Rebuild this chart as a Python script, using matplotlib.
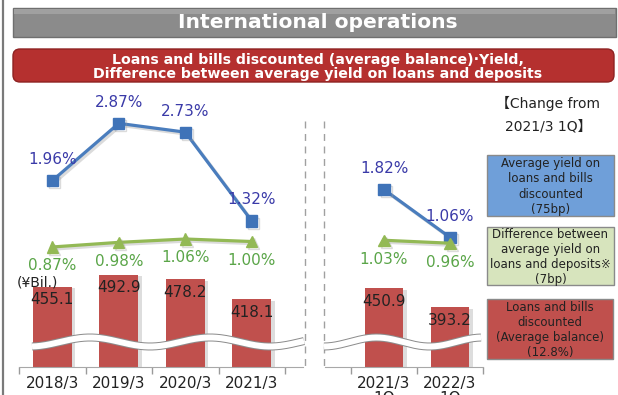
import numpy as np
import matplotlib.pyplot as plt
import matplotlib.patheffects as pe
from matplotlib.patches import FancyBboxPatch, Rectangle

W, H, DPI = 618, 395, 100

# fiscal year-end figures
years = ['2018/3', '2019/3', '2020/3', '2021/3']
loans = [455.1, 492.9, 478.2, 418.1]          # average balance, bil. yen
avg_yield = [1.96, 2.87, 2.73, 1.32]          # %
spread = [0.87, 0.98, 1.06, 1.00]             # %

# first-quarter figures
quarters = ['2021/3\n1Q', '2022/3\n1Q']
loans_q = [450.9, 393.2]
avg_yield_q = [1.82, 1.06]
spread_q = [1.03, 0.96]

RED = '#c0504d'
BLUE = '#4a7dbd'
BLUE_TXT = '#3a3aa8'
GREEN = '#93b955'
GREEN_TXT = '#5aa548'
TXT = '#222222'
FONT = ['DejaVu Sans', 'Noto Sans CJK JP']

plt.rcParams['font.family'] = FONT
fig = plt.figure(figsize=(W / DPI, H / DPI), dpi=DPI)

PT = 72 / DPI   # points per pixel


def px_axes(x0, x1, y0, y1, **kw):
    return fig.add_axes([x0 / W, 1 - y1 / H, (x1 - x0) / W, (y1 - y0) / H], **kw)


def fit_y(ax, val, py, ppu, top=90, bottom=367):
    # put `val` at pixel row py with ppu pixels per unit
    ax.set_ylim(val - (bottom - py) / ppu, val + (py - top) / ppu)


bar_fx = [pe.SimplePatchShadow(offset=(2.5, -1), shadow_rgbFace='#bdbdbd', alpha=0.5), pe.Normal()]
line_fx = [pe.SimpleLineShadow(offset=(1.5, -1.5), shadow_color='#9a9a9a', alpha=0.35), pe.Normal()]


def panel(x0, x1, xlim, labels, bal, yld, spr):
    ax = px_axes(x0, x1, 90, 367)
    ax.patch.set_alpha(0)
    x = np.arange(len(labels))
    bars = ax.bar(x, bal, width=0.59, color=RED, zorder=2)
    for b in bars:
        b.set_path_effects(bar_fx)
    fit_y(ax, 455.1, 287, 0.33)
    ax.set_xlim(*xlim)
    for xi, v in zip(x, bal):
        ax.annotate(f'{v:.1f}', (xi, v), xytext=(0, -13 * PT), textcoords='offset points',
                    ha='center', va='center', fontsize=11, color=TXT, zorder=5)
    ax.set_xticks(x, labels)
    ax.set_xticks(np.arange(-0.5, len(labels)), minor=True)
    ax.tick_params(axis='x', which='major', length=0, pad=6.5, labelsize=11,
                   labelcolor=TXT)
    ax.tick_params(axis='x', which='minor', length=5, color='#9a9a9a', width=1)
    ax.set_yticks([])
    for s in ['top', 'left', 'right']:
        ax.spines[s].set_visible(False)
    ax.spines['bottom'].set_color('#a8a8a8')
    for t in ax.get_xticklabels():
        t.set_verticalalignment('top')
        t.set_linespacing(1.0)

    ay = ax.twinx()
    ay.plot(x, yld, color=BLUE, lw=2.3, marker='s', ms=8,
            mfc='#3f73b8', mec='#3f73b8', zorder=3, path_effects=line_fx)
    fit_y(ay, 1.32, 221, 63)
    for xi, v in zip(x, yld):
        ay.annotate(f'{v:.2f}%', (xi, v), xytext=(0, 21 * PT), textcoords='offset points',
                    ha='center', va='center', fontsize=11, color=BLUE_TXT)

    ag = ax.twinx()
    ag.plot(x, spr, color=GREEN, lw=2.3, marker='^', ms=8, mfc=GREEN, mec=GREEN,
            path_effects=line_fx)
    fit_y(ag, 1.06, 239, 42)
    for xi, v in zip(x, spr):
        ag.annotate(f'{v:.2f}%', (xi, v), xytext=(0, -19 * PT), textcoords='offset points',
                    ha='center', va='center', fontsize=11, color=GREEN_TXT)
    for a in (ay, ag):
        a.set_xlim(*xlim)
        a.axis('off')
    return ax


panel(19, 303, (-0.5, 3.77), years, loans, avg_yield, spread)
panel(325, 483, (-0.894, 1.5), quarters, loans_q, avg_yield_q, spread_q)

# overlay in pixel coordinates: banners, breaks, key boxes
ov = fig.add_axes([0, 0, 1, 1])
ov.set_xlim(0, W)
ov.set_ylim(H, 0)
ov.axis('off')
ov.patch.set_alpha(0)

ov.plot([2.5, 2.5], [0, H], color='#7a7a7a', lw=1.6)

ov.add_patch(Rectangle((13, 8), 603, 29, facecolor='#8b8b8b', edgecolor='#6f6f6f', lw=1))
ov.add_patch(Rectangle((14, 9), 601, 5, facecolor='#a0a0a0', edgecolor='none'))
ov.text(318, 23, 'International operations', ha='center', va='center',
        fontsize=14.6, fontweight='bold', color='white')

ov.add_patch(FancyBboxPatch((13, 49), 601, 33, boxstyle='round,pad=0,rounding_size=7',
                            facecolor='#b5302f', edgecolor='#8e2222', lw=1))
ov.text(318, 60, 'Loans and bills discounted (average balance)\u00b7Yield,',
        ha='center', va='center', fontsize=10.2, fontweight='bold', color='white')
ov.text(318, 74, 'Difference between average yield on loans and deposits',
        ha='center', va='center', fontsize=10.2, fontweight='bold', color='white')

# dashed separators between the two periods
for xs in (305, 324):
    ov.plot([xs, xs], [121, 368], color='#a0a0a0', lw=1, ls=(0, (5, 4)))


# scale-break waves across the bars
def wave(xa, xb, x0, period):
    xs = np.linspace(xa, xb, 200)
    yc = 342 - 4.5 * np.sin(2 * np.pi * (xs - x0) / period)
    ov.plot(xs, yc, color='#8c8c8c', lw=8 * PT, solid_capstyle='butt')
    ov.plot(xs, yc, color='white', lw=6 * PT, solid_capstyle='butt')


wave(32, 304, 60, 120)
wave(324, 481, 350, 106)

ov.text(17, 282, '(\u00a5Bil.)', ha='left', va='center', fontsize=10, color=TXT)

ov.text(548, 103, '\u3010Change from', ha='center', va='center', fontsize=10, color=TXT)
ov.text(548, 127, '2021/3 1Q\u3011', ha='center', va='center', fontsize=10, color=TXT)

boxes = [
    ((487, 155, 127, 61), '#6f9fd9', 'Average yield on\nloans and bills\ndiscounted\n(75bp)'),
    ((487, 227, 127, 58), '#d7e4bd', 'Difference between\naverage yield on\nloans and deposits\u203b\n(7bp)'),
    ((487, 299, 126, 60), RED, 'Loans and bills\ndiscounted\n(Average balance)\n(12.8%)'),
]
for (bx, by, bw, bh), fc, txt in boxes:
    ov.add_patch(Rectangle((bx, by), bw, bh, facecolor=fc, edgecolor='#8a8a8a', lw=1))
    ov.text(bx + bw / 2, by + bh / 2 + 1, txt, ha='center', va='center', fontsize=8.5,
            color=TXT, linespacing=1.2)

fig.savefig('out.png', dpi=DPI)
